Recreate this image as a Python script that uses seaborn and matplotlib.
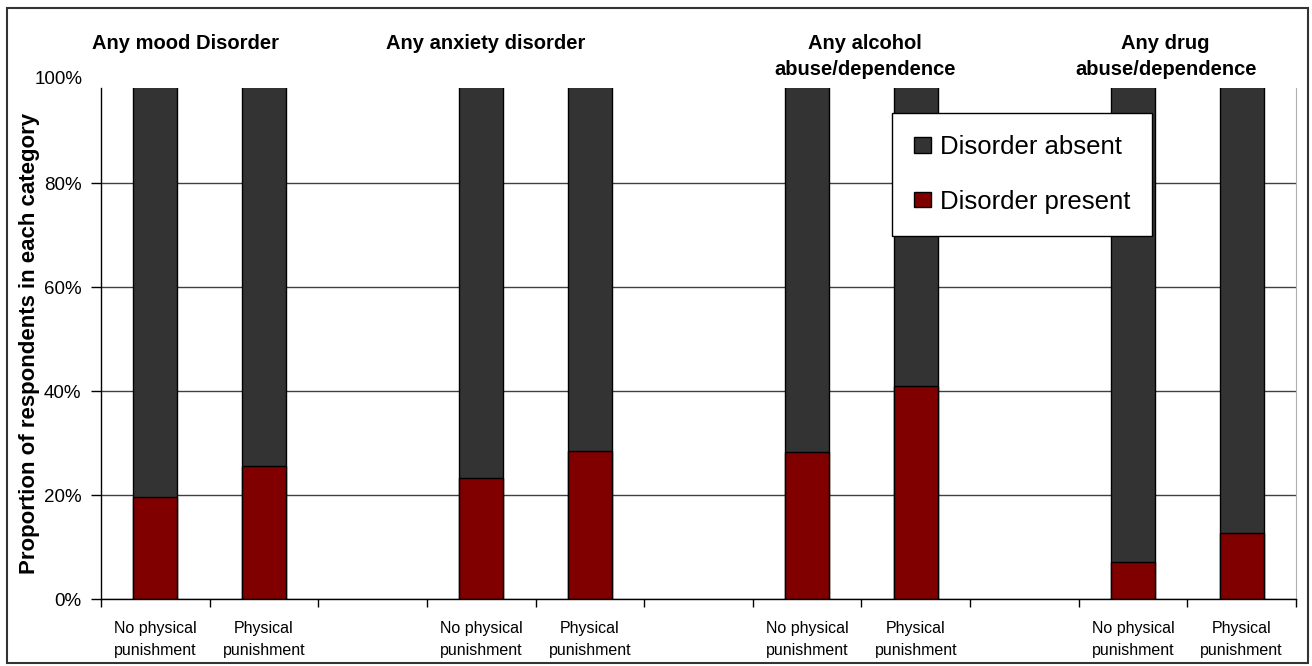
import pandas as pd
import matplotlib.pyplot as plt
import seaborn as sns
from matplotlib.patches import Patch, Rectangle
from matplotlib.ticker import FixedLocator, PercentFormatter

# Data (proportion with disorder present)
groups = ['Any mood Disorder', 'Any anxiety disorder',
          'Any alcohol\nabuse/dependence', 'Any drug\nabuse/dependence']
exposure = ['No physical\npunishment', 'Physical\npunishment']
present = [[0.197, 0.256], [0.232, 0.285], [0.282, 0.410], [0.071, 0.126]]
absent_color = '#333333'
present_color = '#800000'

# Build the long table: each group takes 3 slots (2 bars + a gap)
rows = []
for g, name in enumerate(groups):
    for k, exp in enumerate(exposure):
        rows.append({'slot': g * 3 + k, 'group': name, 'exposure': exp,
                     'present': present[g][k], 'total': 1.0})
df = pd.DataFrame(rows)
n_slots = len(groups) * 3 - 1
slot_order = list(range(n_slots))

sns.set_style('white')
plt.rcParams['font.family'] = ['Liberation Sans', 'DejaVu Sans']
plt.rcParams.update({'text.color': 'black', 'axes.labelcolor': 'black',
                     'xtick.color': 'black', 'ytick.color': 'black'})

fig = plt.figure(figsize=(13.12, 6.66), dpi=100)
ax = fig.add_axes([0.077, 0.1006, 0.9108, 0.7673])

# Stacked bars: full bar = disorder absent, overlay = disorder present
sns.barplot(data=df, x='slot', y='total', order=slot_order, color=absent_color,
            width=0.405, edgecolor='black', linewidth=1, saturation=1, ax=ax)
sns.barplot(data=df, x='slot', y='present', order=slot_order, color=present_color,
            width=0.405, edgecolor='black', linewidth=1, saturation=1, ax=ax)

ax.set_xlim(-0.5, n_slots - 0.5)
ax.set_ylim(0, 0.983)
ax.set_xlabel('')
ax.set_ylabel('Proportion of respondents in each category', fontsize=16,
              fontweight='bold', labelpad=3)

# y axis
ax.set_yticks([0, 0.2, 0.4, 0.6, 0.8])
ax.yaxis.set_major_formatter(PercentFormatter(1.0, decimals=0))
ax.tick_params(axis='y', direction='out', length=7, width=1, color='black',
               labelsize=13.5, pad=7, left=True)
ax.text(-0.0151, 1.0, '100%', transform=ax.get_yaxis_transform(),
        ha='right', va='center', fontsize=13.5, clip_on=False)
ax.yaxis.grid(True, color='#404040', linewidth=1)
ax.set_axisbelow(True)

# x axis: ticks between slots, labels at slot centres
ax.xaxis.set_major_locator(FixedLocator([i - 0.5 for i in range(n_slots + 1)]))
ax.set_xticklabels([''] * (n_slots + 1))
labels = [''] * n_slots
for _, r in df.iterrows():
    labels[r['slot']] = r['exposure']
ax.set_xticks(slot_order, minor=True)
ax.set_xticklabels(labels, minor=True, fontsize=11.5, linespacing=1.55)
ax.tick_params(axis='x', which='major', direction='out', length=6, width=1,
               color='black', bottom=True)
ax.tick_params(axis='x', which='minor', length=0, pad=16)

for side in ['left', 'bottom']:
    ax.spines[side].set_color('black')
    ax.spines[side].set_linewidth(1)
ax.spines['top'].set_visible(False)
ax.spines['right'].set_color('#b0b0b0')

# Group headings
title_x = [0.28, 3.04, 6.53, 9.30]
for x, name in zip(title_x, groups):
    ax.text(x, 1.105, name, transform=ax.get_xaxis_transform(), ha='center',
            va='top', fontsize=14.5, fontweight='bold', linespacing=1.45,
            clip_on=False)

handles = [Patch(facecolor=absent_color, edgecolor='black', label='Disorder absent'),
           Patch(facecolor=present_color, edgecolor='black', label='Disorder present')]
leg = ax.legend(handles=handles, loc='upper left', bbox_to_anchor=(0.662, 0.951),
                borderaxespad=0, fontsize=18.5, frameon=True, fancybox=False,
                edgecolor='black', framealpha=1, handlelength=0.65,
                handleheight=0.55, handletextpad=0.35, labelspacing=1.2,
                borderpad=0.85)
leg.get_frame().set_linewidth(1)

# Outer frame around the whole chart
fig.patches.append(Rectangle((0.0053, 0.0045), 0.9917, 0.9835,
                             transform=fig.transFigure, fill=False,
                             edgecolor='#333333', linewidth=1.5))

fig.savefig('out.png', dpi=100)
